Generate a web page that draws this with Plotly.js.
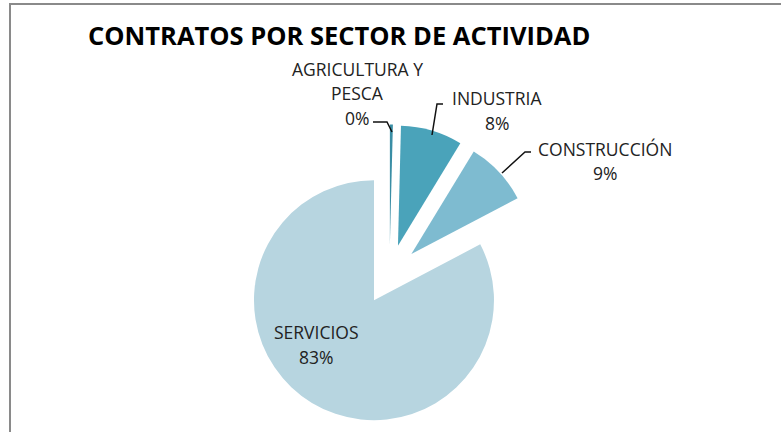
<!DOCTYPE html>
<html>
<head>
<meta charset="utf-8">
<script src="https://cdn.plot.ly/plotly-3.0.1.min.js"></script>
<style>html,body{margin:0;padding:0;background:#fff;}#chart{width:781px;height:432px;}</style>
</head>
<body>
<div id="chart"></div>
<script>
// ---- data ----
const chartTitle = 'CONTRATOS POR SECTOR DE ACTIVIDAD';
const sectors = ['AGRICULTURA Y<br>PESCA', 'INDUSTRIA', 'CONSTRUCCIÓN', 'SERVICIOS'];
const shares = [0.4, 8.3, 8.6, 82.7];
const sliceColors = ['#3a8ea5', '#4aa3ba', '#7ebbd0', '#b7d5e0'];

// ---- layout helpers (pixel -> paper) ----
const W = 781, H = 432;
const px = x => x / W;
const py = y => 1 - y / H;

const total = shares.reduce((a, b) => a + b, 0);
const pctText = shares.map(v => Math.round(v / total * 100) + '%');

// label placement (pixel centres of first line)
const labelPos = [[357, 69], [497, 98], [605, 148.5], [316, 332]];
const lineGap = 24.5;
const annotations = [];
sectors.forEach((s, i) => {
  const lines = s.split('<br>').concat([pctText[i]]);
  lines.forEach((ln, k) => {
    annotations.push({
      text: ln, showarrow: false,
      xref: 'paper', yref: 'paper',
      x: px(labelPos[i][0]), y: py(labelPos[i][1] + k * lineGap),
      xanchor: 'center', yanchor: 'middle',
      font: {family: 'Open Sans, sans-serif', size: 17.5, color: '#222'}
    });
  });
});

const leaders = [
  [[373, 122], [387, 122], [392, 132]],
  [[443, 104], [437, 104], [432, 135]],
  [[531, 152], [525, 152], [502, 173]]
];
const shapes = leaders.map(pts => ({
  type: 'path', xref: 'paper', yref: 'paper',
  path: 'M' + pts.map(p => px(p[0]) + ',' + py(p[1])).join(' L'),
  line: {color: '#111', width: 1.5}
}));
shapes.push({
  type: 'rect', xref: 'paper', yref: 'paper', layer: 'above',
  x0: px(10), x1: px(W + 20), y0: py(H + 20), y1: py(4),
  line: {color: '#8a8a8a', width: 2}, fillcolor: 'rgba(0,0,0,0)'
});

const trace = {
  type: 'pie',
  labels: sectors,
  values: shares,
  sort: false,
  direction: 'clockwise',
  rotation: 0,
  pull: [0.25, 0.25, 0.25, 0.25],
  marker: {colors: sliceColors, line: {width: 0}},
  textinfo: 'none',
  hoverinfo: 'label+percent',
  showlegend: false,
  domain: {x: [px(389.5 - 150), px(389.5 + 150)], y: [py(274.5 + 150), py(274.5 - 150)]}
};

const layout = {
  width: W, height: H,
  margin: {l: 0, r: 0, t: 0, b: 0},
  paper_bgcolor: '#fff',
  title: {
    text: '<b>' + chartTitle + '</b>',
    x: px(88), xanchor: 'left', xref: 'paper',
    y: py(36), yanchor: 'middle', yref: 'paper',
    font: {family: 'Open Sans, sans-serif', size: 25.5, color: '#000'}
  },
  annotations: annotations,
  shapes: shapes,
  showlegend: false
};

Plotly.newPlot('chart', [trace], layout, {displayModeBar: false, staticPlot: true});
</script>
</body>
</html>
